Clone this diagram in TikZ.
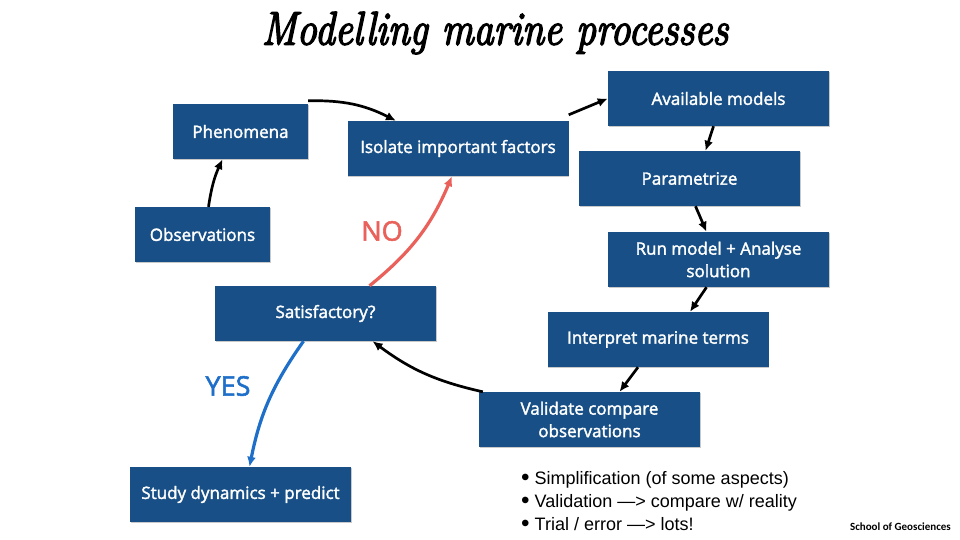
\documentclass[tikz,border=0pt]{standalone}
\usepackage{fontspec}
\setmainfont{Open Sans}
\newfontfamily\boxfont{Open Sans}[FakeBold=2]
\newfontfamily\titlefont{Latin Modern Roman}[FakeBold=3.5]
\newfontfamily\listfont{Liberation Sans}
\newfontfamily\footfont{Carlito}
\usetikzlibrary{arrows.meta,shadows}
\definecolor{boxblue}{HTML}{174F86}
\definecolor{nored}{HTML}{E9615A}
\definecolor{yesblue}{HTML}{1E6FC9}
\newcommand{\listdot}{\raisebox{-1.6pt}{\scalebox{1.35}{\textbullet}}}
\tikzset{
  stepbox/.style={fill=boxblue, text=white, minimum width=221pt, minimum height=55pt,
    align=center, inner sep=2pt, font=\boxfont\fontsize{17}{22.5}\selectfont,
    drop shadow={shadow xshift=0.6pt, shadow yshift=-0.8pt, opacity=0.35, fill=black!60}},
  smallbox/.style={stepbox, minimum width=135pt},
  link/.style={-{Latex[length=10pt,width=9pt]}, line width=2.7pt, black},
  nolink/.style={link, nored, line width=3.2pt},
  yeslink/.style={link, yesblue, line width=3.2pt},
  answer/.style={font=\boxfont\fontsize{27}{30}\selectfont},
}
\begin{document}
\begin{tikzpicture}[x=1pt,y=-1pt]
\useasboundingbox (0,0) rectangle (960,540);
\fill[white] (0,0) rectangle (960,540);

\node[font=\titlefont\itshape\fontsize{47}{50}\selectfont] (title) at (495,33)
  {\scalebox{0.85}[1]{Modelling marine processes}};

\node[smallbox] (phen) at (240.5,131.5) {Phenomena};
\node[stepbox] (iso) at (458,148.5) {Isolate important factors};
\node[smallbox] (obs) at (202.5,234.5) {Observations};
\node[stepbox] (avail) at (718.5,98.5) {Available models};
\node[stepbox] (param) at (689.5,178.5) {Parametrize};
\node[stepbox] (run) at (718.5,259.5) {Run model + Analyse\\solution};
\node[stepbox] (interp) at (658,339.5) {Interpret marine terms};
\node[stepbox] (valid) at (589.5,419.5) {Validate compare\\observations};
\node[stepbox] (sat) at (325.5,313.5) {Satisfactory?};
\node[stepbox] (study) at (240.5,494.5) {Study dynamics + predict};

\draw[link] ([xshift=6pt]obs.north) to[bend left=8] ([xshift=-18pt]phen.south);
\draw[link] ([yshift=3pt]phen.north east) to[bend left=14] ([xshift=-62pt]iso.north);
\draw[link] ([yshift=6pt]iso.north east) -- (avail.west);
\draw[link] ([xshift=-5pt]avail.south) -- ([xshift=16pt]param.north);
\draw[link] ([xshift=6pt]param.south) -- ([xshift=-12pt]run.north);
\draw[link] ([xshift=-12pt]run.south) -- ([xshift=32pt]interp.north);
\draw[link] ([xshift=-20pt]interp.south) -- ([xshift=30pt]valid.north);
\draw[link] ([xshift=4pt]valid.north west) to[bend left=12] ([xshift=47pt]sat.south);
\draw[nolink] ([xshift=44pt]sat.north) to[bend right=14] ([xshift=-6pt]iso.south);
\draw[yeslink] ([xshift=-22pt]sat.south) to[bend right=12] ([xshift=9pt]study.north);

\node[answer, text=nored] (no) at (382,231) {NO};
\node[answer, text=yesblue] (yes) at (228,386) {YES};

\node[anchor=north west, align=left, font=\listfont\fontsize{18}{23}\selectfont, inner sep=0pt] (notes) at (521,471)
  {\listdot\ Simplification (of some aspects)\\
   \listdot\ Validation \textemdash> compare w/ reality\\
   \listdot\ Trial / error \textemdash> lots!};

\node[anchor=east, font=\footfont\bfseries\fontsize{11}{12}\selectfont, inner sep=0pt] (foot) at (951,527) {School of Geosciences};
\end{tikzpicture}
\end{document}
